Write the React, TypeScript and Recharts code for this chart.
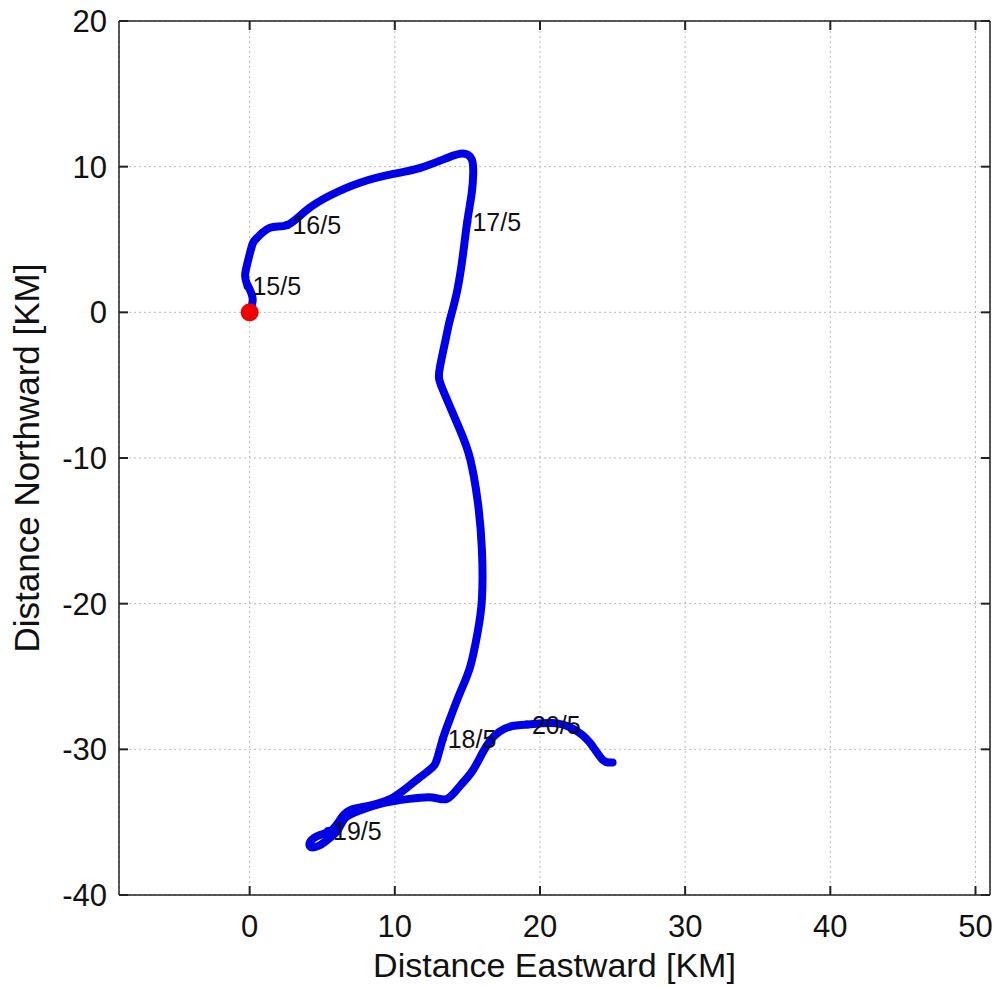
import { ScatterChart, Scatter, XAxis, YAxis, CartesianGrid } from 'recharts';

// drifter track, km from release point (east, north)
const trackEast = [
  0, 0.2, -0.2, -0.3, -0.1, 0.2, 0.5, 1.4, 2.6, 3.9, 5.5, 7.6, 9.9, 11.7, 13.6, 14.7, 15.3, 15.4, 15.3, 15.0,
  14.7, 14.3, 13.8, 13.6, 13.1, 13.3, 14.5, 15.2, 15.7, 16.0, 16.0, 15.7, 15.2, 14.5, 13.8, 13.3, 12.9, 12.4,
  11.0, 9.7, 8.1, 7.1, 6.4, 5.7, 4.8, 4.2, 4.2, 4.8, 5.5, 6.1, 6.6, 7.6, 9.2, 11.0, 12.6, 13.6, 14.5, 15.4,
  16.3, 17.2, 18.1, 19.1, 20.9, 22.3, 23.4, 24.3, 25.0,
];
const trackNorth = [
  0, 1.0, 2.0, 2.7, 3.6, 4.7, 5.1, 5.8, 6.0, 7.0, 8.0, 8.9, 9.5, 9.9, 10.6, 10.9, 10.5, 9.5, 8.2, 6.3,
  4.0, 1.5, -0.5, -1.4, -3.8, -5.3, -8.1, -10.1, -12.9, -16.3, -19.7, -22.0, -24.3, -26.1, -27.9, -29.3, -30.7, -31.4,
  -32.5, -33.4, -33.9, -34.1, -34.6, -35.5, -35.9, -36.3, -36.7, -36.6, -36.1, -35.5, -34.7, -34.2, -33.7, -33.4, -33.3, -33.4, -32.5, -31.4,
  -29.8, -28.8, -28.4, -28.3, -28.2, -28.6, -29.5, -30.7, -30.9,
];

const dayLabels = ['15/5', '16/5', '17/5', '18/5', '19/5', '20/5'];
const dayEast = [-0.15, 2.6, 15.0, 13.3, 5.4, 19.1];
const dayNorth = [1.8, 6.0, 6.2, -29.3, -35.6, -28.3];

const startPoint = [{ x: 0, y: 0 }];

const xTicks = [0, 10, 20, 30, 40, 50];
const yTicks = [-40, -30, -20, -10, 0, 10, 20];

const track = trackEast.map((x, i) => ({ x, y: trackNorth[i] }));
const days = dayLabels.map((label, i) => ({ x: dayEast[i], y: dayNorth[i], label }));

const FONT = '"Liberation Sans", Arial, sans-serif';
const BLUE = '#0000e6';
const AXIS = '#222';
const TICK_LEN = 9;
const axisLine = { stroke: AXIS, strokeWidth: 1.5 };

// MATLAB style: tick marks point into the plot box
const BottomTick = (p: any) => {
  const top = p.y - 29;
  return (
    <g>
      <line x1={p.x} x2={p.x} y1={top} y2={top + TICK_LEN} stroke={AXIS} strokeWidth={2} />
      <text x={p.x} y={p.y} dy="0.71em" textAnchor="middle" fontSize={31} fill="#111" fontFamily={FONT}>
        {p.payload.value}
      </text>
    </g>
  );
};

const LeftTick = (p: any) => {
  const right = p.x + 21;
  return (
    <g>
      <line x1={right - TICK_LEN} x2={right} y1={p.y} y2={p.y} stroke={AXIS} strokeWidth={2} />
      <text x={p.x} y={p.y} dy="0.355em" textAnchor="end" fontSize={31} fill="#111" fontFamily={FONT}>
        {p.payload.value}
      </text>
    </g>
  );
};

const TopTick = (p: any) => (
  <line x1={p.x} x2={p.x} y1={p.y} y2={p.y - TICK_LEN} stroke={AXIS} strokeWidth={2} />
);

const RightTick = (p: any) => (
  <line x1={p.x} x2={p.x + TICK_LEN} y1={p.y} y2={p.y} stroke={AXIS} strokeWidth={2} />
);

const DayMark = (props: any) => {
  const { cx, cy, payload } = props;
  return (
    <g>
      <circle cx={cx} cy={cy} r={4} fill={BLUE} />
      <text x={cx + 5} y={cy} dominantBaseline="central" fontSize={25} fontFamily={FONT} fill="#111">
        {payload.label}
      </text>
    </g>
  );
};

export default function App() {
  return (
    <div>
      <style>{`html,body{margin:0;padding:0;overflow:hidden;background:#fff}`}</style>
      <ScatterChart width={995} height={987} margin={{ top: 20, right: 4, bottom: 0, left: 0 }}>
        <CartesianGrid stroke="#b8b8b8" strokeDasharray="2 3" xAxisId="bottom" yAxisId="left" />
        <XAxis
          xAxisId="bottom"
          dataKey="x"
          type="number"
          domain={[-9, 51]}
          ticks={xTicks}
          allowDataOverflow
          height={92}
          tickSize={-9}
          tickMargin={29}
          axisLine={axisLine}
          tickLine={false}
          tick={BottomTick}
          label={{ value: 'Distance Eastward [KM]', position: 'insideBottom', offset: 10, fontSize: 34, fill: '#111', fontFamily: FONT }}
        />
        <XAxis
          xAxisId="top"
          orientation="top"
          dataKey="x"
          type="number"
          domain={[-9, 51]}
          ticks={xTicks}
          allowDataOverflow
          height={1}
          tickSize={-9}
          tickMargin={0}
          axisLine={axisLine}
          tickLine={false}
          tick={TopTick}
        />
        <YAxis
          yAxisId="left"
          dataKey="y"
          type="number"
          domain={[-40, 20]}
          ticks={yTicks}
          allowDataOverflow
          width={119}
          tickSize={-9}
          tickMargin={21}
          axisLine={axisLine}
          tickLine={false}
          tick={LeftTick}
          label={{
            value: 'Distance Northward [KM]',
            angle: -90,
            position: 'insideLeft',
            offset: 27,
            fontSize: 35,
            fill: '#111',
            fontFamily: FONT,
            style: { textAnchor: 'middle' },
          }}
        />
        <YAxis
          yAxisId="right"
          orientation="right"
          dataKey="y"
          type="number"
          domain={[-40, 20]}
          ticks={yTicks}
          allowDataOverflow
          width={1}
          tickSize={-9}
          tickMargin={0}
          axisLine={axisLine}
          tickLine={false}
          tick={RightTick}
        />
        <Scatter
          data={track}
          xAxisId="bottom"
          yAxisId="left"
          line={{ stroke: BLUE, strokeWidth: 8, strokeLinejoin: 'round', strokeLinecap: 'round' }}
          lineJointType="natural"
          shape={() => <g />}
          isAnimationActive={false}
        />
        <Scatter data={days} xAxisId="bottom" yAxisId="left" shape={DayMark} isAnimationActive={false} />
        <Scatter
          data={startPoint}
          xAxisId="bottom"
          yAxisId="left"
          shape={(p: any) => <circle cx={p.cx} cy={p.cy} r={9} fill="#f00000" />}
          isAnimationActive={false}
        />
      </ScatterChart>
    </div>
  );
}
